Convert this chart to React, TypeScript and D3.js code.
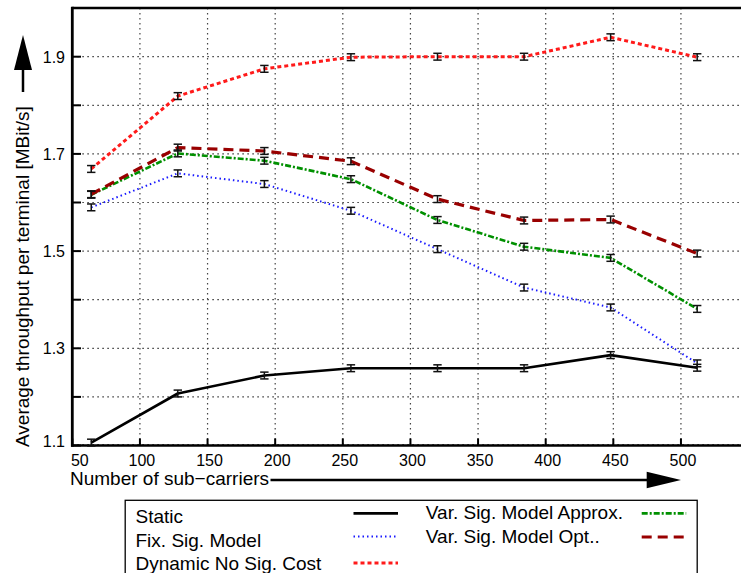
import React from "react";
import * as d3 from "d3";

const xValues = [64, 128, 192, 256, 320, 384, 448, 512];
const staticVals = [1.106, 1.207, 1.244, 1.259, 1.259, 1.259, 1.286, 1.26];
const fixVals = [1.59, 1.66, 1.638, 1.583, 1.504, 1.425, 1.384, 1.269];
const dynVals = [1.669, 1.819, 1.875, 1.899, 1.9, 1.9, 1.94, 1.899];
const approxVals = [1.616, 1.701, 1.686, 1.648, 1.564, 1.509, 1.486, 1.381];
const optVals = [1.617, 1.713, 1.706, 1.685, 1.607, 1.563, 1.565, 1.495];
const errHalf = [0.007, 0.007, 0.007, 0.007, 0.007, 0.007, 0.007, 0.007];

const xTicks = [50, 100, 150, 200, 250, 300, 350, 400, 450, 500];
const yTickLabels = [1.1, 1.3, 1.5, 1.7, 1.9];
const yGrid = [1.2, 1.3, 1.4, 1.5, 1.6, 1.7, 1.8, 1.9];
const yMinor = [1.1, 1.2, 1.3, 1.4, 1.5, 1.6, 1.7, 1.8, 1.9];

const seriesNames = [
  "Static",
  "Fix. Sig. Model",
  "Dynamic No Sig. Cost",
  "Var. Sig. Model Approx.",
  "Var. Sig. Model Opt..",
];

const W = 741;
const H = 573;
const FONT = "'Liberation Sans', Arial, Helvetica, sans-serif";

const styles = [
  { color: "#000000", width: 2.6, dash: "none" },
  { color: "#1a1aff", width: 2, dash: "1.5,3" },
  { color: "#ff1a1a", width: 3, dash: "4,3" },
  { color: "#009000", width: 2.6, dash: "6,2,2,2" },
  { color: "#990000", width: 3.2, dash: "10,6" },
];

export default function App() {
  const x = d3.scaleLinear().domain([50, 544.4]).range([72.3, 741]);
  const y = d3.scaleLinear().domain([1.1, 2.0]).range([445.5, 8.1]);
  const allSeries = [staticVals, fixVals, dynVals, approxVals, optVals];
  const line = d3
    .line<number>()
    .x((_, i) => x(xValues[i]))
    .y((d) => y(d));
  // draw order: static, fix, dyn, approx, opt
  const order = [0, 1, 2, 3, 4];

  return (
    <div style={{ position: "fixed", left: 0, top: 0, width: W, height: H, background: "#fff" }}>
      <svg width={W} height={H} style={{ display: "block" }} fontFamily={FONT}>
        <rect x={0} y={0} width={W} height={H} fill="#fff" />
        {/* grid */}
        <g stroke="#444" strokeWidth={1.2} strokeDasharray="1.6,3.4">
          {yGrid.map((v) => (
            <line key={"gy" + v} x1={72.3} x2={W} y1={y(v)} y2={y(v)} />
          ))}
          <line x1={72.3} x2={W} y1={y(1.1) - 1} y2={y(1.1) - 1} />
          {xTicks.slice(1).map((v) => (
            <line key={"gx" + v} x1={x(v)} x2={x(v)} y1={8} y2={y(1.1)} />
          ))}
        </g>
        {/* axis ticks */}
        <g stroke="#000" strokeWidth={2}>
          {yMinor.map((v) => (
            <line key={"ty" + v} x1={72.3} x2={81} y1={y(v)} y2={y(v)} />
          ))}
          {xTicks.map((v) => (
            <line key={"tx" + v} x1={x(v)} x2={x(v)} y1={y(1.1)} y2={y(1.1) - 7} />
          ))}
        </g>
        {/* frame */}
        <line x1={72.3} x2={W} y1={8} y2={8} stroke="#000" strokeWidth={2.6} />
        <line x1={72.3} x2={72.3} y1={6.8} y2={446.8} stroke="#000" strokeWidth={2.8} />
        <line x1={71} x2={W} y1={445.5} y2={445.5} stroke="#000" strokeWidth={2.6} />

        {/* series lines */}
        {order.map((si) => (
          <path
            key={"s" + si}
            d={line(allSeries[si]) || ""}
            fill="none"
            stroke={styles[si].color}
            strokeWidth={styles[si].width}
            strokeDasharray={styles[si].dash}
            strokeLinejoin="round"
          />
        ))}
        {/* error bars */}
        <g stroke="#111" strokeWidth={1.5}>
          {allSeries.map((vals, si) =>
            vals.map((v, i) => {
              const cx = x(xValues[i]);
              const y1 = y(v - errHalf[i]);
              const y2 = y(v + errHalf[i]);
              return (
                <g key={"e" + si + "-" + i}>
                  <line x1={cx} x2={cx} y1={y1} y2={y2} />
                  <line x1={cx - 4.2} x2={cx + 4.2} y1={y1} y2={y1} />
                  <line x1={cx - 4.2} x2={cx + 4.2} y1={y2} y2={y2} />
                </g>
              );
            })
          )}
        </g>

        {/* y tick labels */}
        <g fontSize={16} fill="#000" textAnchor="end">
          {yTickLabels.map((v) => (
            <text key={"yl" + v} x={65} y={y(v) + (v === 1.1 ? 1.5 : 5.8)}>
              {v.toFixed(1)}
            </text>
          ))}
        </g>
        {/* x tick labels */}
        <g fontSize={16} fill="#000" textAnchor="middle">
          {xTicks.map((v) => (
            <text key={"xl" + v} x={v === 50 ? x(v) + 7.5 : x(v) + 2} y={465.5}>
              {v}
            </text>
          ))}
        </g>

        {/* x title with arrow */}
        <text x={70} y={484.5} fontSize={19} fill="#000">
          Number of sub−carriers
        </text>
        <line x1={270.5} x2={650} y1={480} y2={480} stroke="#000" strokeWidth={2.5} />
        <path d="M646.7,471.7 L681,480 L646.7,488.3 Z" fill="#000" />

        {/* y title with arrow */}
        <text
          transform="translate(29,447) rotate(-90)"
          x={0}
          y={0}
          fontSize={19}
          fill="#000"
        >
          Average throughput per terminal [MBit/s]
        </text>
        <line x1={23} x2={23} y1={92} y2={66} stroke="#000" strokeWidth={2.5} />
        <path d="M14,70 L23,35 L32,70 Z" fill="#000" />

        {/* legend */}
        <rect x={125.2} y={500.3} width={572} height={90} fill="#fff" stroke="#000" strokeWidth={1.3} />
        <g fontSize={19} fill="#000">
          <text x={135.5} y={522.7}>{seriesNames[0]}</text>
          <text x={135.5} y={546.8}>{seriesNames[1]}</text>
          <text x={135.5} y={570}>{seriesNames[2]}</text>
          <text x={425.8} y={519.3}>{seriesNames[3]}</text>
          <text x={425.8} y={543.4}>{seriesNames[4]}</text>
        </g>
        {[
          { si: 0, x1: 353.5, yy: 513.4 },
          { si: 1, x1: 353.5, yy: 536.5 },
          { si: 2, x1: 353.5, yy: 563 },
          { si: 3, x1: 641.7, yy: 513.4 },
          { si: 4, x1: 641.7, yy: 537 },
        ].map((l) => (
          <line
            key={"lg" + l.si}
            x1={l.x1}
            x2={l.x1 + 44.5}
            y1={l.yy}
            y2={l.yy}
            stroke={styles[l.si].color}
            strokeWidth={styles[l.si].width}
            strokeDasharray={styles[l.si].dash}
          />
        ))}
      </svg>
    </div>
  );
}
